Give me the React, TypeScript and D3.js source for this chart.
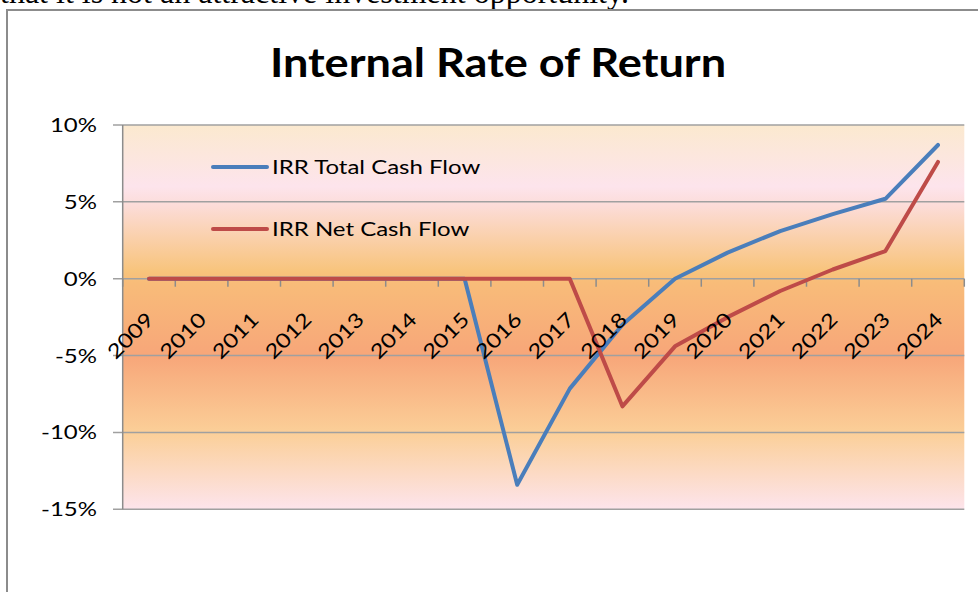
import React from "react";
import * as d3 from "d3";

const years = ["2009", "2010", "2011", "2012", "2013", "2014", "2015", "2016", "2017", "2018", "2019", "2020", "2021", "2022", "2023", "2024"];
const irrTotal = [0, 0, 0, 0, 0, 0, 0, -13.4, -7.15, -3.0, 0, 1.7, 3.1, 4.2, 5.2, 8.7];
const irrNet = [0, 0, 0, 0, 0, 0, 0, 0, 0, -8.3, -4.4, -2.5, -0.8, 0.6, 1.8, 7.6];
const yTicks = [10, 5, 0, -5, -10, -15];

const series = [
  { name: "IRR Total Cash Flow", values: irrTotal, color: "#4a7ebb" },
  { name: "IRR Net Cash Flow", values: irrNet, color: "#be4b48" },
];

const W = 978;
const H = 592;
const plot = { left: 122.7, right: 964.3, top: 125, bottom: 509.3 };
const font = "Lato, 'Open Sans', sans-serif";
// the source screenshot is stretched sideways a bit
const sx = 1.2;

export default function App() {
  const x = d3.scaleBand().domain(years).range([plot.left, plot.right]);
  const y = d3.scaleLinear().domain([-15, 10]).range([plot.bottom, plot.top]);
  const cx = (i: number) => (x(years[i]) as number) + x.bandwidth() / 2;

  const line = d3
    .line<number>()
    .x((_, i) => cx(i))
    .y((d) => y(d));

  const tickXs = years.map((yr) => x(yr) as number).concat([plot.right]);

  return (
    <svg width={W} height={H} style={{ position: "absolute", left: 0, top: 0, background: "#fff" }}>
      <defs>
        <linearGradient id="bg" x1="0" y1={plot.top} x2="0" y2={plot.bottom} gradientUnits="userSpaceOnUse">
          <stop offset="0" stopColor="#fbe9cf" />
          <stop offset="0.16" stopColor="#fde4ec" />
          <stop offset="0.21" stopColor="#fcdcd8" />
          <stop offset="0.38" stopColor="#f8c47c" />
          <stop offset="0.41" stopColor="#f8bc79" />
          <stop offset="0.6" stopColor="#f7a679" />
          <stop offset="0.8" stopColor="#fbcf98" />
          <stop offset="1" stopColor="#fde4ec" />
        </linearGradient>
      </defs>

      {/* page text above the chart object */}
      <text x={0} y={3} fontFamily="'Liberation Serif', serif" fontSize={32} fill="#000">
        that it is not an attractive investment opportunity.
      </text>

      {/* chart frame */}
      <rect x={7} y={10} width={990} height={620} fill="#fff" stroke="#8c8c8c" strokeWidth={2} />

      <text
        transform={`translate(498,77) scale(1.1,1)`}
        textAnchor="middle"
        fontFamily={font}
        fontWeight={700}
        fontSize={41}
        fill="#000"
      >
        Internal Rate of Return
      </text>

      <rect x={plot.left} y={plot.top} width={plot.right - plot.left} height={plot.bottom - plot.top} fill="url(#bg)" />

      {yTicks.map((t) => (
        <g key={t}>
          <line x1={113} x2={plot.right} y1={y(t)} y2={y(t)} stroke="#a0a0a0" strokeWidth={1.5} />
          <text
            transform={`translate(97,${y(t)}) scale(${sx},1)`}
            dy="0.35em"
            textAnchor="end"
            fontFamily={font}
            fontSize={20}
            fill="#000"
          >
            {t}%
          </text>
        </g>
      ))}
      <line x1={plot.left} x2={plot.left} y1={plot.top} y2={plot.bottom} stroke="#8c8c8c" strokeWidth={1.5} />

      {tickXs.map((tx, i) => (
        <line key={i} x1={tx} x2={tx} y1={y(0)} y2={y(0) + 8} stroke="#8c8c8c" strokeWidth={1.5} />
      ))}

      {series.map((s) => (
        <path
          key={s.name}
          d={line(s.values) || ""}
          fill="none"
          stroke={s.color}
          strokeWidth={4}
          strokeLinejoin="round"
          strokeLinecap="round"
        />
      ))}

      {years.map((yr, i) => (
        <text
          key={yr}
          transform={`translate(${cx(i) + 6},${321}) rotate(-45) scale(${sx},1)`}
          textAnchor="end"
          fontFamily={font}
          fontSize={20}
          fill="#000"
        >
          {yr}
        </text>
      ))}

      {series.map((s, i) => (
        <g key={s.name} transform={`translate(213,${167 + i * 62})`}>
          <line x1={0} x2={54} y1={0} y2={0} stroke={s.color} strokeWidth={4} strokeLinecap="round" />
          <text
            transform={`translate(59,0) scale(${sx},1)`}
            dy="0.35em"
            fontFamily={font}
            fontSize={20}
            fill="#000"
          >
            {s.name}
          </text>
        </g>
      ))}
    </svg>
  );
}
